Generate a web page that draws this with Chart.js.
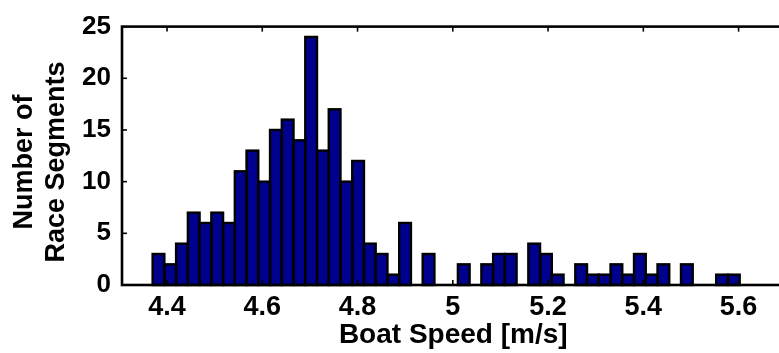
<!DOCTYPE html>
<html>
<head>
<meta charset="utf-8">
<script src="https://cdn.jsdelivr.net/npm/chart.js@4"></script>
<style>
  html, body { margin: 0; padding: 0; background: #fff; overflow: hidden; }
  #wrap { width: 790px; height: 353px; }
</style>
</head>
<body>
<div id="wrap"><canvas id="c" width="790" height="353"></canvas></div>
<script>
// Histogram bin centres (boat speed, m/s)
const binCenters = [
  4.3821, 4.4068, 4.4314, 4.4561, 4.4807, 4.5054, 4.5300, 4.5547, 4.5793, 4.6040,
  4.6286, 4.6533, 4.6779, 4.7026, 4.7272, 4.7519, 4.7765, 4.8012, 4.8258, 4.8505,
  4.8751, 4.8998, 4.9244, 4.9491, 4.9737, 4.9984, 5.0230, 5.0477, 5.0723, 5.0970,
  5.1216, 5.1463, 5.1709, 5.1956, 5.2202, 5.2449, 5.2695, 5.2942, 5.3188, 5.3435,
  5.3681, 5.3928, 5.4174, 5.4421, 5.4667, 5.4914, 5.5160, 5.5407, 5.5653, 5.5900
];
// Number of race segments per bin
const counts = [
  3, 2, 4, 7, 6, 7, 6, 11, 13, 10,
  15, 16, 14, 24, 13, 17, 10, 12, 4, 3,
  1, 6, 0, 3, 0, 0, 2, 0, 2, 3,
  3, 0, 4, 3, 1, 0, 2, 1, 1, 2,
  1, 3, 1, 2, 0, 2, 0, 0, 1, 1
];
const xTicks = [4.4, 4.6, 4.8, 5.0, 5.2, 5.4, 5.6];
const xTickLabels = ['4.4', '4.6', '4.8', '5', '5.2', '5.4', '5.6'];
const yTicks = [0, 5, 10, 15, 20, 25];
const xTitle = 'Boat Speed [m/s]';
const yTitle = ['Number of', 'Race Segments'];

const FONT = "'Liberation Sans', Arial, Helvetica, sans-serif";

const framePlugin = {
  id: 'frame',
  afterDatasetsDraw(chart) {
    const { ctx, chartArea: a, scales: { x, y } } = chart;
    const meta = chart.getDatasetMeta(0);
    ctx.save();
    ctx.strokeStyle = '#000';
    ctx.lineJoin = 'miter';
    ctx.lineWidth = 2.4;
    meta.data.forEach((el, i) => {
      if (counts[i] > 0) {
        const w = el.width;
        ctx.strokeRect(el.x - w / 2, el.y, w, el.base - el.y);
      }
    });
    ctx.lineWidth = 2.6;
    ctx.strokeRect(a.left, a.top, a.right - a.left, a.bottom - a.top);
    ctx.lineWidth = 1.6;
    const L = 5;
    const line = (x1, y1, x2, y2) => { ctx.beginPath(); ctx.moveTo(x1, y1); ctx.lineTo(x2, y2); ctx.stroke(); };
    x.ticks.forEach(t => {
      const px = x.getPixelForValue(t.value);
      line(px, a.top, px, a.top + L);
      line(px, a.bottom, px, a.bottom - L);
    });
    y.ticks.forEach(t => {
      const py = y.getPixelForValue(t.value);
      line(a.left, py, a.left + L, py);
      line(a.right, py, a.right - L, py);
    });
    // y-axis title (two centred lines, rotated)
    ctx.fillStyle = '#000';
    ctx.font = 'bold 27px ' + FONT;
    ctx.textAlign = 'center';
    ctx.textBaseline = 'middle';
    ctx.translate(0, 162);
    ctx.rotate(-Math.PI / 2);
    ctx.fillText(yTitle[0], 0, 25);
    ctx.fillText(yTitle[1], 0, 57);
    ctx.restore();
  }
};

new Chart(document.getElementById('c'), {
  type: 'bar',
  data: {
    datasets: [{
      data: binCenters.map((v, i) => ({ x: v, y: counts[i] })),
      backgroundColor: '#00008F',
      borderWidth: 0,
      barPercentage: 1,
      categoryPercentage: 1
    }]
  },
  options: {
    responsive: false,
    devicePixelRatio: 1,
    animation: false,
    layout: { padding: { top: 26, right: 5.5, bottom: 0, left: 0 } },
    plugins: { legend: { display: false }, tooltip: { enabled: false } },
    scales: {
      x: {
        type: 'linear',
        offset: false,
        min: 4.3055,
        max: 5.6964,
        afterBuildTicks(s) { s.ticks = xTicks.map(v => ({ value: v })); },
        afterFit(s) { s.height = 68; },
        grid: { display: false, drawTicks: false },
        border: { display: false },
        ticks: {
          padding: 6,
          color: '#000',
          maxRotation: 0,
          autoSkip: false,
          font: { family: FONT, size: 27, weight: 'bold', lineHeight: 1.2 },
          callback: (v, i) => xTickLabels[i]
        },
        title: {
          display: true,
          text: xTitle,
          color: '#000',
          padding: { top: 0, bottom: 1 },
          font: { family: FONT, size: 28, weight: 'bold', lineHeight: 1.2 }
        }
      },
      y: {
        min: 0,
        max: 25,
        afterBuildTicks(s) { s.ticks = yTicks.map(v => ({ value: v })); },
        afterFit(s) { s.width = 122; },
        grid: { display: false, drawTicks: false },
        border: { display: false },
        ticks: {
          padding: 11,
          color: '#000',
          font: { family: FONT, size: 26, weight: 'bold', lineHeight: 1.2 }
        },
        title: { display: false }
      }
    }
  },
  plugins: [framePlugin]
});
</script>
</body>
</html>
